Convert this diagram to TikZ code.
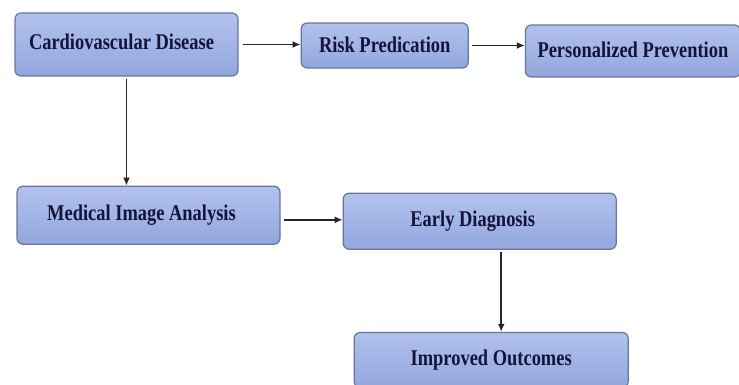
\documentclass[tikz,border=0pt]{standalone}
\usepackage{fontspec}
\setmainfont[FakeStretch=0.82]{Liberation Serif}
\usetikzlibrary{arrows.meta,positioning,calc}
\definecolor{boxtop}{HTML}{B2C2EE}
\definecolor{boxbot}{HTML}{93A7DE}
\definecolor{boxline}{HTML}{66769F}
\definecolor{boxtext}{HTML}{14143A}

\begin{document}
\begin{tikzpicture}[x=1pt,y=1pt,>={Latex[length=8pt,width=7pt]},
  stage/.style={draw=boxline,line width=1.2pt,rounded corners=6pt,
    top color=boxtop,bottom color=boxbot,inner sep=0pt,
    text=boxtext,font=\fontsize{22.5}{24}\selectfont\bfseries},
  link/.style={->,line width=1.5pt,black!85}]
\useasboundingbox[fill=white] (0,0) rectangle (739,-385);
\node (cvd) [stage,minimum width=223pt,minimum height=63pt] at (126.5,-44.5)
  {\raisebox{6pt}{Cardiovascular Disease\hspace*{10pt}}};
\node (risk) [stage,minimum width=167pt,minimum height=45pt,right=62pt of cvd,yshift=-1pt]
  {\raisebox{2pt}{Risk Predication}};
\node (pp) [stage,minimum width=215pt,minimum height=52pt,right=56pt of risk,yshift=-5.5pt]
  {\raisebox{3pt}{Personalized Prevention}};
\node (mia) [stage,minimum width=263pt,minimum height=58pt,below=109pt of cvd,xshift=22pt]
  {\raisebox{4pt}{Medical Image Analysis\hspace*{14pt}}};
\node (ed) [stage,minimum width=273pt,minimum height=56pt,right=62pt of mia,yshift=-6pt]
  {\raisebox{3pt}{Early Diagnosis\hspace*{14pt}}};
\node (io) [stage,minimum width=274pt,minimum height=55pt,below=82pt of ed,xshift=11.5pt]
  {Improved Outcomes};
\coordinate (edout) at ([xshift=21.5pt]ed.south);
\draw[link,shorten <=4pt] (cvd.east) -- (cvd.east -| risk.west);
\draw[link,shorten <=3pt] (risk.east) -- (risk.east -| pp.west);
\draw[link,shorten <=2pt] (cvd.south) -- (cvd.south |- mia.north);
\draw[link,shorten <=3pt] (mia.-2) -- (mia.-2 -| ed.west);
\draw[link,shorten <=2pt] (edout) -- (edout |- io.north);
\end{tikzpicture}
\end{document}
